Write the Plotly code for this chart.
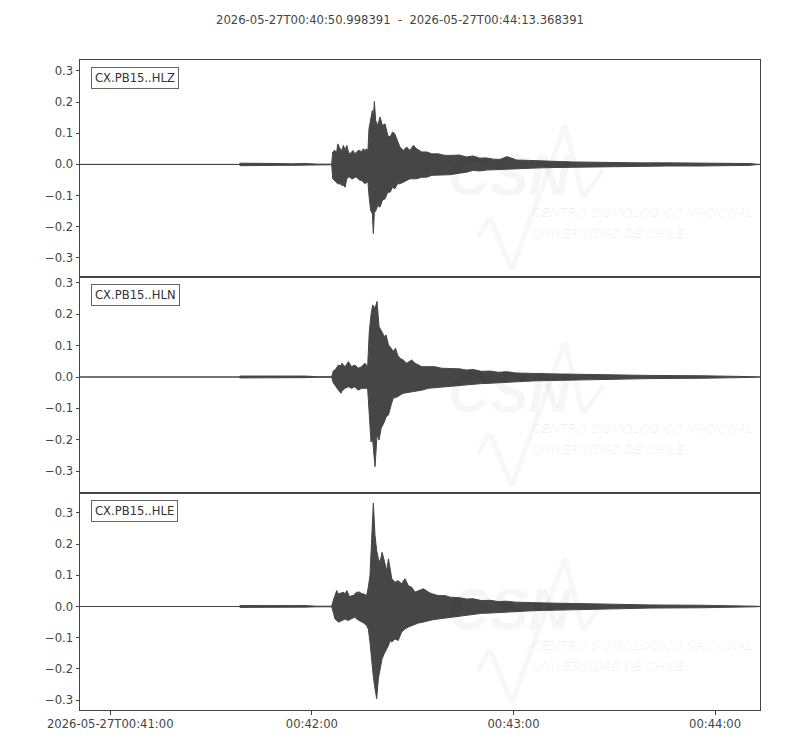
import pandas as pd
import plotly.graph_objects as go
from plotly.subplots import make_subplots

# ---------------- data ----------------
START = "2026-05-27 00:40:50.998391"
END = "2026-05-27 00:44:13.368391"
TITLE = "2026-05-27T00:40:50.998391  -  2026-05-27T00:44:13.368391"
CHANNELS = ["CX.PB15..HLZ", "CX.PB15..HLN", "CX.PB15..HLE"]

X_TICKS = ["2026-05-27 00:41:00", "2026-05-27 00:42:00",
           "2026-05-27 00:43:00", "2026-05-27 00:44:00"]
X_TICK_TEXT = ["2026-05-27T00:41:00", "00:42:00", "00:43:00", "00:44:00"]
Y_TICKS = [-0.3, -0.2, -0.1, 0.0, 0.1, 0.2, 0.3]
Y_TICK_TEXT = ["\u22120.3", "\u22120.2", "\u22120.1", "0.0", "0.1", "0.2", "0.3"]

# min/max envelope of each trace, seconds after START
HLZ_T = [0, 47.4, 47.6, 51, 55, 59, 63, 67, 70.5, 74.9,
         75.2, 75.7, 76.4, 76.7, 77.4, 77.9, 78.4, 78.9, 79.4, 79.9, 80.3, 80.8,
         81.3, 81.8, 82.3, 82.8, 83.3, 83.8, 84.3, 84.8, 85.3, 85.7,
         86.0, 86.5, 87.0, 87.3, 87.6, 88.0, 88.6, 89.3, 90.0, 90.8, 91.6, 92.3,
         93.0, 93.7, 94.5, 95.2, 96.2, 97.2, 98.2, 99.2, 100.2, 101.7, 103.2,
         104.7, 106.6, 108.6, 110.1,
         113.0, 115.0, 117.0, 119.0, 121.0, 123.0, 125.0, 127.1, 130.0, 133.5,
         136.9, 141.0, 146.7, 151.0, 156.8, 166.7, 175.0, 184.5, 195.0, 199.4,
         201.0, 202.37]
HLZ_HI = [0, 0, 0.004, 0.003, 0.004, 0.003, 0.002, 0.003, 0.001, 0.001,
          0.040, 0.045, 0.040, 0.066, 0.050, 0.045, 0.061, 0.045, 0.061, 0.040, 0.034, 0.040,
          0.045, 0.034, 0.040, 0.045, 0.045, 0.040, 0.050, 0.045, 0.050, 0.045,
          0.114, 0.147, 0.173, 0.150, 0.202, 0.141, 0.125, 0.152, 0.125, 0.130, 0.093, 0.088,
          0.104, 0.098, 0.072, 0.056, 0.045, 0.056, 0.045, 0.061, 0.050, 0.040, 0.040,
          0.034, 0.034, 0.029, 0.029,
          0.030, 0.024, 0.027, 0.020, 0.021, 0.017, 0.016, 0.025, 0.014, 0.013,
          0.011, 0.010, 0.008, 0.007, 0.006, 0.005, 0.005, 0.005, 0.004, 0.003,
          0.001, 0.0]
HLZ_LO = [0, 0, -0.004, -0.003, -0.004, -0.003, -0.003, -0.002, -0.001, -0.001,
          -0.046, -0.051, -0.057, -0.062, -0.062, -0.067, -0.067, -0.073, -0.046, -0.041, -0.041, -0.046,
          -0.046, -0.041, -0.041, -0.046, -0.051, -0.051, -0.057, -0.062, -0.057, -0.057,
          -0.099, -0.148, -0.158, -0.222, -0.153, -0.150, -0.132, -0.137, -0.115, -0.110, -0.089, -0.089,
          -0.073, -0.078, -0.062, -0.062, -0.057, -0.051, -0.046, -0.046, -0.046, -0.041, -0.041,
          -0.035, -0.035, -0.035, -0.033,
          -0.028, -0.025, -0.019, -0.021, -0.018, -0.017, -0.015, -0.014, -0.013, -0.012,
          -0.011, -0.010, -0.009, -0.007, -0.006, -0.005, -0.005, -0.005, -0.004, -0.003,
          -0.001, 0.0]

HLN_T = [0, 47.4, 47.6, 51, 55, 59, 63, 67, 70.5, 74.9,
         75.4, 75.9, 76.9, 77.7, 77.9, 78.9, 79.9, 80.8, 81.8, 82.8, 83.8, 84.8, 85.6,
         86.1, 86.6, 87.1, 87.8, 88.4, 89.0, 89.6, 90.6, 91.1, 91.8, 92.6, 93.2,
         93.9, 94.5, 95.2, 96.2, 97.2, 98.7, 99.7, 101.7, 103.7, 105.6, 107.6, 110.1,
         113.0, 115.0, 117.0, 119.5, 122.0, 124.5, 127.0, 129.5, 132.0, 136.0,
         140.0, 145.0, 150.0, 160.0, 170.0, 185.0, 199.0, 201.0, 202.37]
HLN_HI = [0, 0, 0.003, 0.003, 0.004, 0.003, 0.002, 0.003, 0.001, 0.001,
          0.020, 0.022, 0.038, 0.035, 0.044, 0.033, 0.049, 0.033, 0.038, 0.028, 0.033, 0.044, 0.033,
          0.145, 0.198, 0.230, 0.219, 0.241, 0.161, 0.150, 0.129, 0.134, 0.102, 0.092, 0.081,
          0.092, 0.070, 0.060, 0.054, 0.044, 0.054, 0.044, 0.033, 0.033, 0.033, 0.028, 0.028,
          0.026, 0.022, 0.024, 0.018, 0.019, 0.015, 0.017, 0.013, 0.013, 0.011,
          0.010, 0.009, 0.008, 0.006, 0.005, 0.004, 0.003, 0.001, 0.0]
HLN_LO = [0, 0, -0.003, -0.003, -0.004, -0.003, -0.003, -0.002, -0.001, -0.001,
          -0.020, -0.026, -0.042, -0.052, -0.045, -0.036, -0.031, -0.036, -0.031, -0.042, -0.036, -0.036, -0.036,
          -0.121, -0.207, -0.201, -0.286, -0.185, -0.201, -0.164, -0.143, -0.127, -0.121, -0.089, -0.068,
          -0.065, -0.063, -0.058, -0.052, -0.050, -0.047, -0.047, -0.042, -0.036, -0.034, -0.034, -0.031,
          -0.028, -0.026, -0.024, -0.021, -0.020, -0.018, -0.016, -0.015, -0.014, -0.012,
          -0.011, -0.009, -0.008, -0.006, -0.005, -0.004, -0.003, -0.001, 0.0]

HLE_T = [0, 47.4, 47.6, 51, 55, 59, 63, 67, 70.5, 74.9,
         75.4, 75.9, 76.4, 76.9, 77.4, 77.9, 78.4, 78.9, 79.4, 79.9, 80.3, 80.8,
         81.3, 81.8, 82.3, 83.3, 83.8, 84.3, 85.3,
         85.8, 86.3, 86.8, 87.3, 87.8, 88.3, 88.8, 89.3, 89.9, 90.6, 91.3, 91.8,
         92.3, 92.8, 93.7, 94.7, 95.7, 96.7, 97.7, 98.7, 99.7, 100.7, 102.2,
         103.7, 104.7, 106.6, 108.6, 110.1,
         113.0, 115.0, 117.0, 119.5, 122.0, 124.5, 127.0, 129.5, 132.0, 136.0,
         140.0, 145.0, 150.0, 160.0, 170.0, 185.0, 199.0, 201.0, 202.37]
HLE_HI = [0, 0, 0.003, 0.003, 0.004, 0.003, 0.002, 0.003, 0.001, 0.001,
          0.020, 0.035, 0.051, 0.040, 0.041, 0.044, 0.046, 0.040, 0.051, 0.040, 0.030, 0.035,
          0.035, 0.040, 0.046, 0.046, 0.041, 0.041, 0.035,
          0.062, 0.099, 0.217, 0.332, 0.228, 0.179, 0.153, 0.142, 0.174, 0.147, 0.115, 0.153,
          0.115, 0.089, 0.078, 0.083, 0.073, 0.089, 0.067, 0.062, 0.046, 0.051, 0.057,
          0.046, 0.041, 0.035, 0.035, 0.030,
          0.028, 0.024, 0.025, 0.019, 0.020, 0.016, 0.017, 0.014, 0.014, 0.012,
          0.011, 0.010, 0.008, 0.006, 0.005, 0.004, 0.003, 0.001, 0.0]
HLE_LO = [0, 0, -0.003, -0.003, -0.004, -0.003, -0.003, -0.002, -0.001, -0.001,
          -0.020, -0.040, -0.045, -0.050, -0.048, -0.045, -0.042, -0.040, -0.043, -0.045, -0.042, -0.040,
          -0.037, -0.034, -0.040, -0.045, -0.050, -0.052, -0.061,
          -0.072, -0.114, -0.178, -0.226, -0.264, -0.296, -0.230, -0.200, -0.168, -0.150, -0.136, -0.125,
          -0.110, -0.114, -0.104, -0.109, -0.082, -0.072, -0.066, -0.062, -0.056, -0.053, -0.050,
          -0.045, -0.043, -0.040, -0.037, -0.034,
          -0.030, -0.028, -0.026, -0.022, -0.021, -0.019, -0.018, -0.016, -0.015, -0.013,
          -0.012, -0.010, -0.009, -0.007, -0.005, -0.004, -0.003, -0.001, 0.0]

Y_RANGES = [[-0.361, 0.335], [-0.370, 0.319], [-0.332, 0.364]]

# ---------------- figure ----------------
TRACE_COLOR = "#464646"
AXIS_COLOR = "#444444"
FONT = dict(family="DejaVu Sans", size=11.6, color="#444444")

series = [(HLZ_T, HLZ_HI, HLZ_LO), (HLN_T, HLN_HI, HLN_LO), (HLE_T, HLE_HI, HLE_LO)]
t0 = pd.Timestamp(START)

fig = make_subplots(rows=3, cols=1, shared_xaxes=True, vertical_spacing=0)

for i, (t, hi, lo) in enumerate(series, start=1):
    x = t0 + pd.to_timedelta(t, unit="s")
    fig.add_trace(go.Scatter(x=x, y=hi, mode="lines",
                             line=dict(color=TRACE_COLOR, width=1),
                             hoverinfo="skip", showlegend=False), row=i, col=1)
    fig.add_trace(go.Scatter(x=x, y=lo, mode="lines", fill="tonexty",
                             fillcolor=TRACE_COLOR,
                             line=dict(color=TRACE_COLOR, width=1),
                             hoverinfo="skip", showlegend=False), row=i, col=1)

domains = [[0.6662, 1.0], [0.3338, 0.6662], [0.0, 0.3338]]
for i in range(1, 4):
    fig.update_yaxes(row=i, col=1, domain=domains[i - 1], range=Y_RANGES[i - 1],
                     tickvals=Y_TICKS, ticktext=Y_TICK_TEXT,
                     showline=True, mirror=True, linecolor=AXIS_COLOR, linewidth=1,
                     ticks="outside", ticklen=3.5, tickcolor=AXIS_COLOR, tickwidth=1,
                     showgrid=False, zeroline=False, tickfont=FONT)
    fig.update_xaxes(row=i, col=1, type="date", range=[START, END],
                     showline=True, mirror=True, linecolor=AXIS_COLOR, linewidth=1,
                     showgrid=False, zeroline=False,
                     tickvals=X_TICKS, ticktext=X_TICK_TEXT, tickfont=FONT,
                     ticks="outside" if i == 3 else "", ticklen=3.5,
                     tickcolor=AXIS_COLOR, showticklabels=(i == 3))

wm_color = "rgba(0,0,0,0.035)"
wm_text_color = "rgba(0,0,0,0.06)"
for i, name in enumerate(CHANNELS, start=1):
    xs = "x" if i == 1 else f"x{i}"
    ys = "y" if i == 1 else f"y{i}"
    fig.add_annotation(text=name, xref=f"{xs} domain", yref=f"{ys} domain",
                       x=0.016, y=0.968, xanchor="left", yanchor="top", showarrow=False,
                       font=dict(family="DejaVu Sans", size=11.6, color="#333333"),
                       bgcolor="white", bordercolor="#666666", borderwidth=1, borderpad=3)
    # faint CSN watermark
    fig.add_annotation(text="CSN", xref=f"{xs} domain", yref=f"{ys} domain",
                       x=0.632, y=0.47, showarrow=False,
                       font=dict(family="Liberation Sans", size=58, color=wm_color,
                                 weight="bold", style="italic"))
    fig.add_annotation(text="CENTRO SISMOLÓGICO NACIONAL", xref=f"{xs} domain",
                       yref=f"{ys} domain", x=0.662, y=0.253, xanchor="left",
                       showarrow=False,
                       font=dict(family="Liberation Sans", size=13, color=wm_text_color,
                                 style="italic"))
    fig.add_annotation(text="UNIVERSIDAD DE CHILE", xref=f"{xs} domain",
                       yref=f"{ys} domain", x=0.662, y=0.157, xanchor="left",
                       showarrow=False,
                       font=dict(family="Liberation Sans", size=13, color=wm_text_color,
                                 style="italic"))
    pts = [(0.585, 0.184), (0.603, 0.276), (0.635, 0.032), (0.713, 0.700),
           (0.740, 0.369), (0.769, 0.493)]
    for (xa, ya), (xb, yb) in zip(pts[:-1], pts[1:]):
        fig.add_shape(type="line", xref=f"{xs} domain", yref=f"{ys} domain",
                      x0=xa, y0=ya, x1=xb, y1=yb, layer="below",
                      line=dict(color="#f7f7f7", width=5))

# page body adds an 8px margin, so the figure is sized to fit inside it
fig.update_layout(
    width=792, height=742,
    margin=dict(l=72, r=40, t=52, b=40),
    paper_bgcolor="white", plot_bgcolor="white",
    font=FONT,
    title=dict(text=TITLE, xref="container", x=392 / 792, xanchor="center",
               y=1 - 12 / 742, yanchor="middle", font=FONT),
    showlegend=False,
)

fig.write_html("out.html")
